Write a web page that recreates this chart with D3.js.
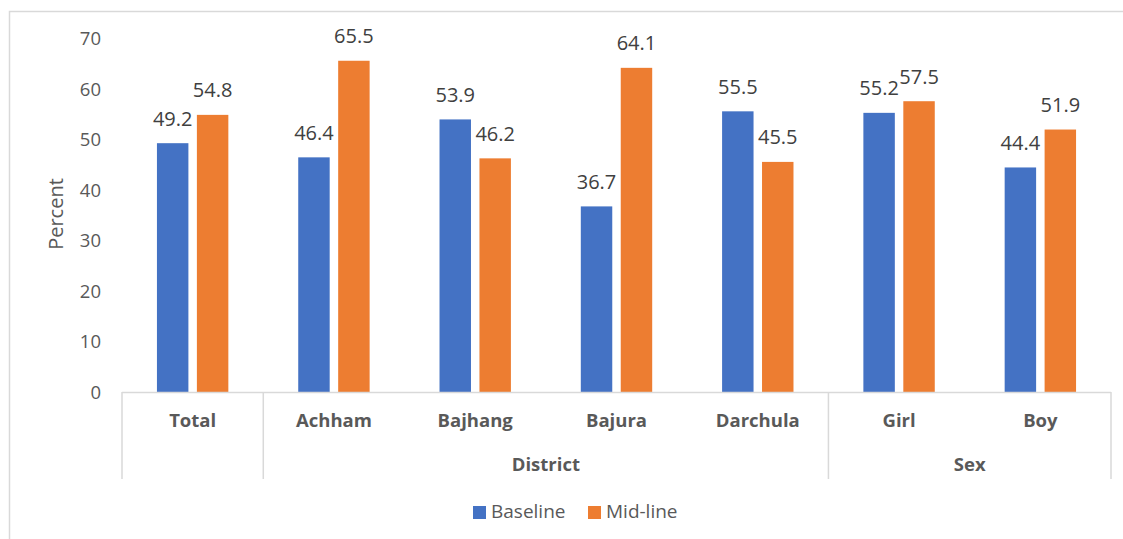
<!DOCTYPE html>
<html>
<head>
<meta charset="utf-8">
<script src="https://cdn.jsdelivr.net/npm/d3@7"></script>
<style>
  html, body { margin: 0; padding: 0; background: #fff; }
  svg { display: block; font-family: "Open Sans", "Noto Sans", sans-serif; }
</style>
</head>
<body>
<svg id="chart" width="1123" height="539"></svg>
<script>
// Categories on the lower axis row and the groups they belong to
const categories = ["Total", "Achham", "Bajhang", "Bajura", "Darchula", "Girl", "Boy"];
const groups = [
  { name: "", members: ["Total"] },
  { name: "District", members: ["Achham", "Bajhang", "Bajura", "Darchula"] },
  { name: "Sex", members: ["Girl", "Boy"] }
];
const seriesNames = ["Baseline", "Mid-line"];
const baseline = [49.2, 46.4, 53.9, 36.7, 55.5, 55.2, 44.4];
const midline  = [54.8, 65.5, 46.2, 64.1, 45.5, 57.5, 51.9];
const yTicks = [0, 10, 20, 30, 40, 50, 60, 70];
const colors = ["#4472C4", "#ED7D31"];

const svg = d3.select("#chart");
const W = 1123, H = 539;
const plot = { left: 122, right: 1111, top: 38, bottom: 392 };
const font = "'Open Sans', 'Noto Sans', sans-serif";

// Outer chart frame (only the top and left edges fall inside the view)
svg.append("rect")
  .attr("x", 9.5).attr("y", 11.5)
  .attr("width", W + 20).attr("height", H + 20)
  .attr("fill", "none").attr("stroke", "#D9D9D9").attr("stroke-width", 1.5);

const x = d3.scaleBand().domain(categories).range([plot.left, plot.right]).paddingInner(0).paddingOuter(0);
const x1 = d3.scaleBand().domain(seriesNames).range([0, x.bandwidth()]).paddingInner(0.2125).paddingOuter(0.875);
const y = d3.scaleLinear().domain([0, 70]).range([plot.bottom, plot.top]);

// Y axis tick labels (no axis line, no gridlines)
const yAxis = d3.axisLeft(y).tickValues(yTicks).tickSize(0).tickPadding(0);
const yg = svg.append("g").attr("transform", `translate(101,0)`).call(yAxis);
yg.select(".domain").remove();
yg.selectAll("text")
  .attr("font-family", font)
  .attr("font-size", 18.5).attr("fill", "#595959").attr("dy", "0.35em");

// Y axis title
svg.append("text")
  .attr("transform", `translate(63,214) rotate(-90)`)
  .attr("text-anchor", "middle")
  .attr("font-size", 20).attr("fill", "#595959")
  .text("Percent");

// Bars
const rows = categories.map((c, i) => ({ cat: c, vals: [baseline[i], midline[i]] }));
const cg = svg.append("g").selectAll("g").data(rows).join("g")
  .attr("transform", d => `translate(${x(d.cat)},0)`);

cg.selectAll("rect").data(d => d.vals.map((v, j) => ({ v, s: seriesNames[j], j }))).join("rect")
  .attr("x", d => x1(d.s))
  .attr("y", d => y(d.v))
  .attr("width", x1.bandwidth())
  .attr("height", d => y(0) - y(d.v))
  .attr("fill", d => colors[d.j]);

cg.selectAll("text.val").data(d => d.vals.map((v, j) => ({ v, s: seriesNames[j] }))).join("text")
  .attr("class", "val")
  .attr("x", d => x1(d.s) + x1.bandwidth() / 2)
  .attr("y", d => y(d.v) - 17.5)
  .attr("text-anchor", "middle")
  .attr("font-size", 20).attr("fill", "#404040")
  .text(d => d.v.toFixed(1));

// Category axis: baseline, category labels and group labels
const axisCol = "#D9D9D9";
const ax = svg.append("g");
ax.append("line")
  .attr("x1", plot.left).attr("x2", plot.right)
  .attr("y1", plot.bottom + 0.5).attr("y2", plot.bottom + 0.5)
  .attr("stroke", axisCol).attr("stroke-width", 1.5);

ax.selectAll("text.cat").data(categories).join("text")
  .attr("class", "cat")
  .attr("x", d => x(d) + x.bandwidth() / 2)
  .attr("y", 427)
  .attr("text-anchor", "middle")
  .attr("font-size", 18.5).attr("font-weight", "bold").attr("fill", "#595959")
  .text(d => d);

// Group boundary dividers
const bounds = [];
groups.forEach((g, i) => {
  const start = x(g.members[0]);
  if (i === 0) bounds.push(start);
  bounds.push(x(g.members[g.members.length - 1]) + x.bandwidth());
});
ax.selectAll("line.div").data(bounds).join("line")
  .attr("class", "div")
  .attr("x1", d => d).attr("x2", d => d)
  .attr("y1", plot.bottom).attr("y2", 479)
  .attr("stroke", axisCol).attr("stroke-width", 1.5);

ax.selectAll("text.grp").data(groups.filter(g => g.name)).join("text")
  .attr("class", "grp")
  .attr("x", g => (x(g.members[0]) + x(g.members[g.members.length - 1]) + x.bandwidth()) / 2)
  .attr("y", 471)
  .attr("text-anchor", "middle")
  .attr("font-size", 18.5).attr("font-weight", "bold").attr("fill", "#595959")
  .text(g => g.name);

// Legend
const legend = svg.append("g");
const legendItems = [
  { name: seriesNames[0], color: colors[0], x: 473 },
  { name: seriesNames[1], color: colors[1], x: 588 }
];
legendItems.forEach(it => {
  legend.append("rect").attr("x", it.x).attr("y", 506).attr("width", 13).attr("height", 13).attr("fill", it.color);
  legend.append("text").attr("x", it.x + 18).attr("y", 518)
    .attr("font-size", 19).attr("fill", "#595959").text(it.name);
});
</script>
</body>
</html>
